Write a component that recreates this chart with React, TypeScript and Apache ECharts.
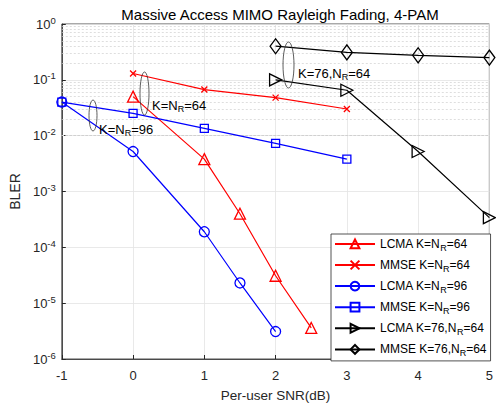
import React, { useEffect, useRef } from "react";
import * as echarts from "echarts";

const snrA = [0, 1, 1.5, 2, 2.5];
const lcma64 = [0.05, 3.8e-3, 4.0e-4, 3.1e-5, 3.6e-6];
const snrB = [0, 1, 2, 3];
const mmse64 = [0.13, 0.067, 0.048, 0.03];
const snrC = [-1, 0, 1, 1.5, 2];
const lcma96 = [0.04, 5.2e-3, 1.9e-4, 2.3e-5, 3.1e-6];
const snrD = [-1, 0, 1, 2, 3];
const mmse96 = [0.04, 0.025, 0.0135, 7.3e-3, 3.8e-3];
const snrE = [2, 3, 4, 5];
const lcma76 = [0.1, 0.065, 5.2e-3, 3.4e-4];
const mmse76 = [0.4, 0.31, 0.275, 0.25];

const seriesNames = [
  "LCMA K=N{sub|R}=64",
  "MMSE K=N{sub|R}=64",
  "LCMA K=N{sub|R}=96",
  "MMSE K=N{sub|R}=96",
  "LCMA K=76,N{sub|R}=64",
  "MMSE K=76,N{sub|R}=64",
];
const annotTexts = ["K=N{sub|R}=96", "K=N{sub|R}=64", "K=76,N{sub|R}=64"];
const decades = [1e-6, 1e-5, 1e-4, 1e-3, 1e-2, 1e-1];
const minorMult = [2, 3, 4, 5, 6, 7, 8, 9];

const FONT = "'Liberation Sans', Arial, Helvetica, sans-serif";
const CROSS = "path://M0,0L10,10M10,0L0,10";

function pairs(xs: number[], ys: number[]) {
  return xs.map((x, i) => [x, ys[i]]);
}

export default function App() {
  const ref = useRef<HTMLDivElement>(null);
  useEffect(() => {
    if (!ref.current) return;
    const chart = echarts.init(ref.current, null, { renderer: "svg" });
    const mk = (
      name: string,
      xs: number[],
      ys: number[],
      color: string,
      symbol: string,
      size: number | number[],
      rotate = 0
    ) => ({
      name,
      type: "line",
      data: pairs(xs, ys),
      symbol,
      symbolSize: size,
      symbolRotate: rotate,
      showAllSymbol: true,
      lineStyle: { color, width: 1.2 },
      itemStyle: { color: "none", borderColor: color, borderWidth: 1.3 },
      z: 3,
    });
    const minorLines: any[] = [];
    decades.forEach((d) =>
      minorMult.forEach((m) => minorLines.push({ yAxis: d * m }))
    );
    const subStyle = () => ({ fontSize: 9, fontFamily: FONT, padding: [8, 0, 0, 0], verticalAlign: "bottom" });
    const series: any[] = [
      mk(seriesNames[0], snrA, lcma64, "#ff0000", "triangle", 11),
      mk(seriesNames[1], snrB, mmse64, "#ff0000", CROSS, 6),
      mk(seriesNames[2], snrC, lcma96, "#0000ff", "circle", 10),
      mk(seriesNames[3], snrD, mmse96, "#0000ff", "rect", 8),
      mk(seriesNames[4], snrE, lcma76, "#000000", "triangle", 12, -90),
      mk(seriesNames[5], snrE, mmse76, "#000000", "diamond", [11, 15]),
    ];
    series[0].markLine = {
      silent: true,
      symbol: "none",
      label: { show: false },
      lineStyle: { color: "#d0d0d0", type: [2, 2], width: 0.7 },
      data: minorLines,
      z: 1,
    };
    const annot = (x: number, y: number, text: string) => ({
      type: "text",
      x,
      y,
      style: { text, font: "13px " + FONT, fill: "#000", verticalAlign: "middle", rich: { sub: subStyle() } },
    });
    const ell = (cx: number, cy: number, rx: number, ry: number) => ({
      type: "ellipse",
      shape: { cx, cy, rx, ry },
      style: { fill: "none", stroke: "#333", lineWidth: 0.8 },
    });
    series.push({
      name: "annotations",
      type: "custom",
      clip: false,
      silent: true,
      z: 10,
      data: [[0, 0.1]],
      renderItem: () => ({
        type: "group",
        children: [
          ell(93, 115.5, 4, 15.5),
          ell(144.5, 93.5, 4.5, 21.5),
          ell(288.5, 65, 5.5, 23),
          annot(99, 129, annotTexts[0]),
          annot(152, 105, annotTexts[1]),
          annot(298, 73, annotTexts[2]),
        ],
      }),
    });
    const axisCol = "#262626";
    const gridCol = "#e3e3e3";
    const option: any = {
      animation: false,
      backgroundColor: "#ffffff",
      title: {
        text: "Massive Access MIMO Rayleigh Fading, 4-PAM",
        left: 275,
        top: 2,
        textAlign: "center",
        textStyle: { fontFamily: FONT, fontSize: 15, fontWeight: "normal", color: "#000" },
      },
      grid: { left: 58, right: 4, top: 24, bottom: 41, show: true, borderColor: axisCol, borderWidth: 0.8 },
      legend: {
        orient: "vertical",
        left: 331,
        top: 234,
        itemWidth: 40,
        itemHeight: 11,
        itemGap: 5.7,
        padding: [3, 4, 3, 3],
        backgroundColor: "#ffffff",
        borderColor: axisCol,
        borderWidth: 0.8,
        borderRadius: 0,
        textStyle: {
          fontFamily: FONT,
          fontSize: 12,
          color: "#000",
          rich: { sub: subStyle() },
        },
        data: seriesNames,
      },
      xAxis: {
        type: "value",
        min: -1,
        max: 5,
        interval: 1,
        name: "Per-user SNR(dB)",
        nameLocation: "middle",
        nameGap: 29,
        nameTextStyle: { fontFamily: FONT, fontSize: 13.5, color: axisCol },
        axisLine: { onZero: false, lineStyle: { color: axisCol, width: 0.8 } },
        axisTick: { inside: true, length: 4, lineStyle: { color: axisCol } },
        axisLabel: { fontFamily: FONT, fontSize: 13, color: axisCol, margin: 10 },
        splitLine: { show: true, lineStyle: { color: gridCol, width: 0.8 } },
      },
      yAxis: {
        type: "log",
        logBase: 10,
        min: 1e-6,
        max: 1,
        name: "BLER",
        nameLocation: "middle",
        nameGap: 33,
        nameTextStyle: { fontFamily: FONT, fontSize: 14, color: axisCol },
        axisLine: { show: true, onZero: false, lineStyle: { color: axisCol, width: 0.8 } },
        axisTick: { inside: true, length: 4, lineStyle: { color: axisCol } },
        axisLabel: {
          fontFamily: FONT,
          fontSize: 13,
          color: axisCol,
          margin: 6,
          formatter: (v: number) => "10{sup|" + Math.round(Math.log10(v)) + "}",
          rich: {
            sup: { fontSize: 9.5, fontFamily: FONT, color: axisCol, padding: [0, 0, 8, 0], verticalAlign: "top" },
          },
        },
        splitLine: { show: true, lineStyle: { color: gridCol, width: 0.8 } },
      },
      series,
    };
    chart.setOption(option);
    return () => chart.dispose();
  }, []);
  return <div ref={ref} style={{ width: 496, height: 407, position: "absolute", left: 0, top: 0 }} />;
}
